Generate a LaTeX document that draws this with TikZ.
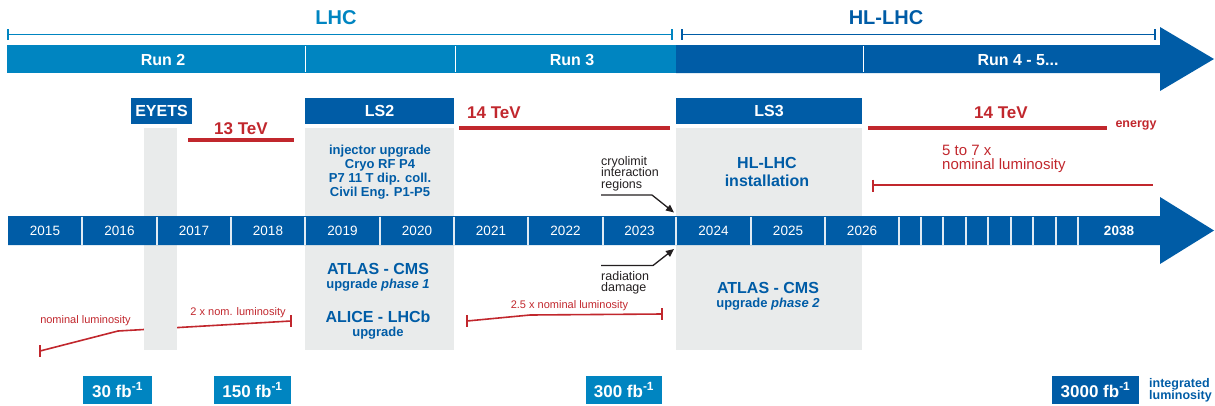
\documentclass[tikz,border=0pt]{standalone}
\usepackage{fontspec}
\setmainfont{Liberation Sans}
\usetikzlibrary{arrows.meta}
\definecolor{lb}{HTML}{0085C1}
\definecolor{db}{HTML}{005CA6}
\definecolor{rd}{HTML}{C1272D}
\definecolor{gr}{HTML}{E9EBEB}
\definecolor{tx}{HTML}{231F20}
\newcommand\fsz[2]{\fontsize{#1}{#2}\selectfont}
\begin{document}
\begin{tikzpicture}[x=1pt,y=-1pt,
  hdr/.style={font=\fsz{20}{22}\bfseries, anchor=base, inner sep=0},
  runlbl/.style={text=white, font=\fsz{16}{18}\bfseries, anchor=base, inner sep=0},
  phasebox/.style={fill=db, text=white, font=\fsz{16}{18}\bfseries, inner sep=0, minimum height=26pt},
  tev/.style={text=rd, font=\fsz{17}{19}\bfseries, anchor=base, inner sep=0},
  yr/.style={text=white, font=\fsz{13.5}{15}, inner sep=0},
  gbig/.style={text=db, font=\fsz{16}{18}\bfseries, anchor=base, inner sep=0},
  gsmall/.style={text=db, font=\fsz{13}{14}\bfseries, anchor=base, inner sep=0},
  note/.style={text=tx, font=\fsz{12.5}{12}, anchor=base west, inner sep=0},
  lumtxt/.style={text=rd, font=\fsz{11}{12}, anchor=base, inner sep=0},
  fbbox/.style={fill=lb, text=white, font=\fsz{17}{19}\bfseries, inner sep=0, minimum height=28pt},
  enl/.style={rd, line width=3.4pt},
  luml/.style={rd, line width=1.6pt},
  arr/.style={tx, line width=1.3pt, -{Triangle[length=8pt,width=7pt]}}
]
\useasboundingbox (0,0) rectangle (1215,405);

% ---- top header brackets
\node[hdr, text=lb] (lhc) at (336,24.3) {LHC};
\node[hdr, text=db] (hllhc) at (886,24.3) {HL-LHC};
\draw[lb, line width=1.8pt] (8,34.5) -- (672,34.5);
\draw[lb, line width=1.8pt] (8,29) -- (8,40);
\draw[lb, line width=1.8pt] (672,29) -- (672,40);
\draw[db, line width=1.8pt] (682,34.5) -- (1155,34.5);
\draw[db, line width=1.8pt] (682,29) -- (682,40);
\draw[db, line width=1.8pt] (1155,29) -- (1155,40);

% ---- run bar
\fill[lb] (7,45) rectangle (676,73);
\fill[db] (676,45) -- (1160,45) -- (1160,27) -- (1214,59) -- (1160,91) -- (1160,73) -- (676,73) -- cycle;
\foreach \xx in {305,455,863} \draw[white, line width=0.9pt] (\xx,46) -- (\xx,72);
\node[runlbl] (run2) at (163,65) {Run 2};
\node[runlbl] (run3) at (572,65) {Run 3};
\node[runlbl] (run45) at (1018,65) {Run 4 - 5...};

% ---- luminosity lines (behind grey columns)
\draw[luml] (40,351) -- (118,331) -- (291,321);
\draw[luml] (40,345) -- (40,357);
\draw[luml] (291,315) -- (291,327);
\draw[luml] (467,321) -- (530,315) -- (662,314);
\draw[luml] (467,315) -- (467,327);
\draw[luml] (662,308) -- (662,320);
\draw[luml] (873,185) -- (1153,185);
\draw[luml] (873,179.5) -- (873,191.5);

% ---- grey shutdown columns
\fill[gr] (144,128) rectangle (177,350);
\fill[gr] (305,128) rectangle (454,350);
\fill[gr] (676,128) rectangle (862,350);

% ---- shutdown labels
\node[phasebox, minimum width=61pt] (eyets) at (161.5,111) {EYETS};
\node[phasebox, minimum width=149pt] (ls2) at (379.5,111) {LS2};
\node[phasebox, minimum width=186pt] (ls3) at (769,111) {LS3};

% ---- energy
\node[tev] (tev13) at (241,134.3) {13 TeV};
\draw[enl] (188,140) -- (294,140);
\node[tev] (tev14a) at (494,118.3) {14 TeV};
\draw[enl] (459,128) -- (670,128);
\node[tev] (tev14b) at (1001,118.3) {14 TeV};
\draw[enl] (868,128) -- (1107,128);
\node[text=rd, font=\fsz{12.5}{14}\bfseries, anchor=base, inner sep=0] (energy) at (1136,127.5) {energy};

% ---- LS2 content
\node[gsmall] (ls2a) at (380,154.3) {injector upgrade};
\node[gsmall] (ls2b) at (380,168.4) {Cryo RF P4};
\node[gsmall] (ls2c) at (380,182.5) {P7 11 T dip. coll.};
\node[gsmall] (ls2d) at (380,196.6) {Civil Eng. P1-P5};

% ---- LS3 content
\node[gbig] (inst1) at (767,168.3) {HL-LHC};
\node[gbig] (inst2) at (767,186.7) {installation};

% ---- notes with arrows
\node[note] (cryo1) at (601,165) {cryolimit};
\node[note] (cryo2) at (601,176.7) {interaction};
\node[note] (cryo3) at (601,188.3) {regions};
\coordinate (cryotail) at (601,195);
\coordinate (cryotip) at (674,212.5);
\draw[arr] (cryotail) -- (652,195) -- (cryotip);

\coordinate (radtail) at (601,265.5);
\coordinate (radtip) at (674,249);
\draw[arr] (radtail) -- (653,265.5) -- (radtip);
\node[note] (rad1) at (601,280.7) {radiation};
\node[note] (rad2) at (601,291.7) {damage};

% ---- 5 to 7 x
\node[text=rd, font=\fsz{15}{14}, anchor=base west, inner sep=0] (hl1) at (942,155) {5 to 7 x};
\node[text=rd, font=\fsz{15}{14}, anchor=base west, inner sep=0] (hl2) at (942,169) {nominal luminosity};

% ---- year bar
\fill[db] (8,216) -- (1160,216) -- (1160,197) -- (1214,230.5) -- (1160,264) -- (1160,245) -- (8,245) -- cycle;
\foreach \xx in {82,157,231,305,380,454,528,603,676,751,825,899,921,943,966,988,1011,1033,1056,1078}
  \draw[white!88!db, line width=1.1pt] (\xx,216.5) -- (\xx,244.5);
\foreach \yy/\xx in {2015/45,2016/119.5,2017/194,2018/268,2019/342.5,2020/417,2021/491,2022/565.5,2023/639.5,2024/713.5,2025/788,2026/862}
  \node[yr] (y\yy) at (\xx,230.5) {\yy};
\node[yr, font=\fsz{13.5}{15}\bfseries] (y2038) at (1119,230.5) {2038};

% ---- experiments
\node[gbig] (atl1) at (378,274) {ATLAS - CMS};
\node[gsmall] (upg1) at (378,288.3) {upgrade \textit{phase 1}};
\node[gbig] (alice) at (378,322.7) {ALICE - LHCb};
\node[gsmall] (upg2) at (378,336) {upgrade};
\node[gbig] (atl2) at (768,293.3) {ATLAS - CMS};
\node[gsmall] (upg3) at (768,307.7) {upgrade \textit{phase 2}};

% ---- luminosity labels
\node[lumtxt] (lum1) at (85.5,323.3) {nominal luminosity};
\node[lumtxt] (lum2) at (238,315) {2 x nom. luminosity};
\node[lumtxt] (lum3) at (569.5,308.3) {2.5 x nominal luminosity};

% ---- integrated luminosity boxes
\node[fbbox, minimum width=69pt] (fb30) at (117.5,390) {30 fb\textsuperscript{-1}};
\node[fbbox, minimum width=77pt] (fb150) at (252.5,390) {150 fb\textsuperscript{-1}};
\node[fbbox, minimum width=76pt] (fb300) at (624,390) {300 fb\textsuperscript{-1}};
\node[fbbox, fill=db, minimum width=87pt] (fb3000) at (1095.5,390) {3000 fb\textsuperscript{-1}};
\node[text=db, font=\fsz{12.5}{11}\bfseries, anchor=base west, inner sep=0] (int1) at (1149,387.7) {integrated};
\node[text=db, font=\fsz{12.5}{11}\bfseries, anchor=base west, inner sep=0] (int2) at (1149,399.3) {luminosity};
\end{tikzpicture}
\end{document}
